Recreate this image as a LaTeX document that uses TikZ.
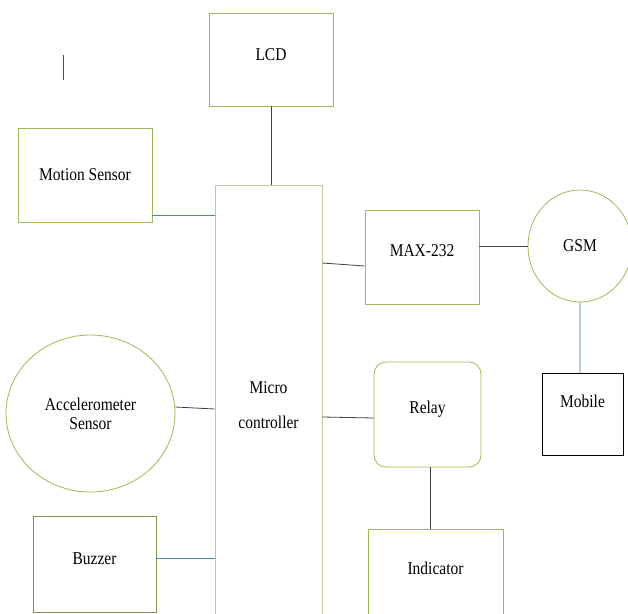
\documentclass[tikz,border=0pt]{standalone}
\usepackage{fontspec}
\setmainfont{Liberation Serif}
\usepackage{tikz}
\usetikzlibrary{positioning,shapes.geometric}

\definecolor{boxgreen}{RGB}{155,187,89}
\definecolor{boxgray}{RGB}{190,200,170}
\definecolor{linkblue}{RGB}{79,129,189}
\definecolor{linklight}{RGB}{185,205,230}

\newcommand{\narrow}[1]{\scalebox{0.86}[1]{#1}}

\begin{document}
\begin{tikzpicture}[
        x=1pt,
        y=-1pt,
        font=\rmfamily\fontsize{18}{21}\selectfont,
        line width=0.8pt,
        block/.style={draw=boxgreen, fill=white, inner sep=0pt, align=center},
        roundblock/.style={block, rounded corners=12pt},
        blob/.style={ellipse, draw=boxgreen, fill=white, inner sep=0pt, align=center},
        link/.style={draw=black!75},
        bluelink/.style={draw=linkblue},
        lightlink/.style={draw=linklight, line width=1.2pt}
    ]
        \useasboundingbox (0,0) rectangle (628,613);

        % blocks
        \node[block, minimum width=124pt, minimum height=93pt, text depth=10pt] (lcd) at (271,59.5) {\narrow{LCD}};
        \node[block, minimum width=134pt, minimum height=94pt] (motion) at (85,175) {\narrow{Motion Sensor}};
        \node[block, draw=boxgray, minimum width=107pt, minimum height=440pt] (mcu) at (268.5,405) {\narrow{Micro}\\[14pt]\narrow{controller}};
        \node[block, minimum width=114pt, minimum height=94pt, text depth=12pt] (max) at (422,257) {\narrow{MAX-232}};
        \node[blob, minimum width=104pt, minimum height=112pt] (gsm) at (580,246) {\narrow{GSM}};
        \node[block, draw=black, minimum width=81pt, minimum height=82pt, text depth=26pt] (mobile) at (582.5,414) {\narrow{Mobile}};
        \node[roundblock, minimum width=107pt, minimum height=105pt, text depth=14pt] (relay) at (427.5,414.5) {\narrow{Relay}};
        \node[block, minimum width=135pt, minimum height=90pt, text depth=12pt] (ind) at (435.5,574) {\narrow{Indicator}};
        \node[blob, minimum width=169pt, minimum height=157pt] (acc) at (90.5,413.5) {\narrow{Accelerometer}\\[-2pt]\narrow{Sensor}};
        \node[block, draw=boxgreen!80!black, minimum width=123pt, minimum height=96pt, text depth=10pt] (buzz) at (94.5,564) {\narrow{Buzzer}};

        % stray mark
        \draw[black!70] (63,55) -- (63,80);

        % connectors
        \draw[link] (lcd.south) -- (lcd.south |- mcu.north);
        \draw[bluelink] (motion.east |- 0,215) -- (mcu.west |- 0,215);
        \draw[link] (mcu.east |- 0,263) -- (max.west |- 0,266);
        \draw[link] (max.east |- 0,246) -- (gsm.west);
        \draw[lightlink] (gsm.south) -- (mobile.north -| gsm.south);
        \draw[link] (acc.east |- 0,407) -- (mcu.west |- 0,409);
        \draw[link] (mcu.east |- 0,417) -- (relay.west |- 0,418);
        \draw[link] (relay.south -| 430,0) -- (ind.north -| 430,0);
        \draw[bluelink] (buzz.east |- 0,558) -- (mcu.west |- 0,558);
    \end{tikzpicture}
\end{document}
